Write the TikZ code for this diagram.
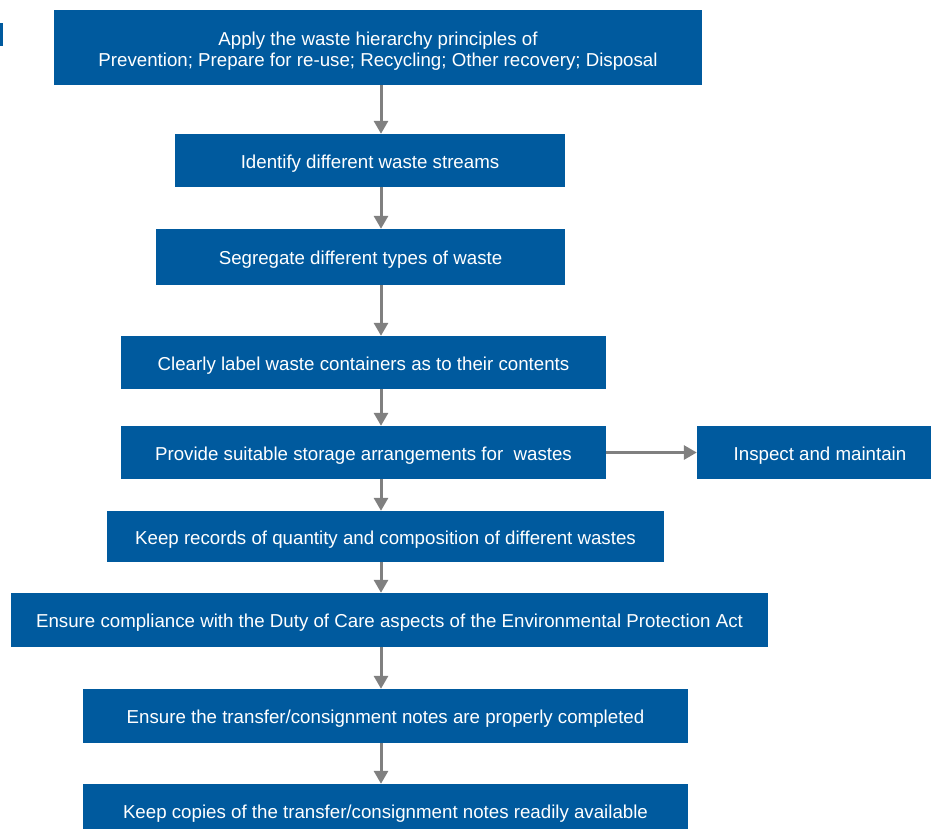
\documentclass[tikz,border=0pt]{standalone}
\usepackage{fontspec}
\setmainfont{Liberation Sans}
\usepackage{tikz}
\usetikzlibrary{arrows.meta,positioning,calc}
\definecolor{wasteblue}{RGB}{0,90,158}
\definecolor{arrowgrey}{RGB}{128,128,128}

\begin{document}
\begin{tikzpicture}[x=1pt,y=1pt,
  wbox/.style={rectangle, fill=wasteblue, text=white, inner sep=0pt, align=center,
    text height=18.5pt, text depth=3pt,
    font=\fontsize{18.7}{21}\selectfont},
  flow/.style={draw=arrowgrey, line width=3pt, -{Triangle[width=14pt,length=13pt]}}]
\useasboundingbox (0,0) rectangle (931,-828);
\clip (0,0) rectangle (931,-828);
\fill[wasteblue] (0,-23) rectangle (3,-46);
\node[wbox, minimum width=648pt, minimum height=75pt, text height=41.5pt, text depth=4pt] (apply) at (378,-47.5) {Apply the waste hierarchy principles of\\Prevention; Prepare for re-use; Recycling; Other recovery; Disposal};
\node[wbox, minimum width=390pt, minimum height=53pt] (identify) at (370,-160.5) {Identify different waste streams};
\node[wbox, minimum width=409pt, minimum height=56pt] (segregate) at (360.5,-257) {Segregate different types of waste};
\node[wbox, minimum width=485pt, minimum height=53pt] (label) at (363.5,-362.5) {Clearly label waste containers as to their contents};
\node[wbox, minimum width=485pt, minimum height=53pt] (storage) at (363.5,-452.5) {Provide suitable storage arrangements for\ \ wastes};
\node[wbox, minimum width=246pt, minimum height=53pt] (inspect) at (820,-452.5) {Inspect and maintain};
\node[wbox, minimum width=557pt, minimum height=51pt] (records) at (385.5,-536.5) {Keep records of quantity and composition of different wastes};
\node[wbox, minimum width=757pt, minimum height=54pt] (comply) at (389.5,-620) {Ensure compliance with the Duty of Care aspects of the Environmental Protection Act};
\node[wbox, minimum width=605pt, minimum height=54pt] (notes) at (385.5,-716) {Ensure the transfer/consignment notes are properly completed};
\node[wbox, minimum width=605pt, minimum height=54pt] (copies) at (385.5,-811) {Keep copies of the transfer/consignment notes readily available};
\coordinate (ax) at (381,0);
\draw[flow] (apply.south -| ax) -- (identify.north -| ax);
\draw[flow] (identify.south -| ax) -- (segregate.north -| ax);
\draw[flow] (segregate.south -| ax) -- (label.north -| ax);
\draw[flow] (label.south -| ax) -- (storage.north -| ax);
\draw[flow] (storage.south -| ax) -- (records.north -| ax);
\draw[flow] (records.south -| ax) -- (comply.north -| ax);
\draw[flow] (comply.south -| ax) -- (notes.north -| ax);
\draw[flow] (notes.south -| ax) -- (copies.north -| ax);
\draw[flow] (storage.east) -- (inspect.west);
\end{tikzpicture}
\end{document}
